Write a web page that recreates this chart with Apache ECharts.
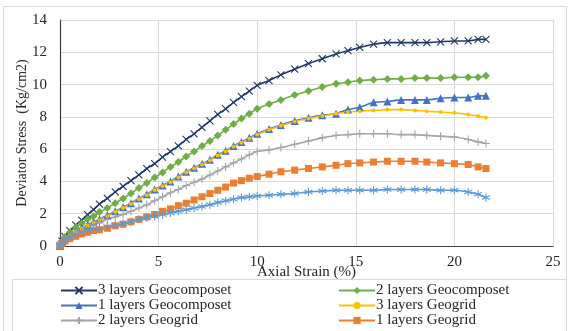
<!DOCTYPE html>
<html>
<head>
<meta charset="utf-8">
<script src="https://cdn.jsdelivr.net/npm/echarts@6/dist/echarts.min.js"></script>
<style>
html, body { margin: 0; padding: 0; background: #fff; }
#main { width: 570px; height: 331px; }
</style>
</head>
<body>
<div id="main"></div>
<script>
// axial strain (%) shared by all curves
var strain = [0, 0.1, 0.25, 0.5, 0.8, 1.1, 1.4, 1.7, 2.0, 2.4, 2.8, 3.2, 3.6, 4.0, 4.4, 4.8, 5.2, 5.6, 6.0, 6.4, 6.8, 7.2, 7.6, 8.0, 8.4, 8.8, 9.2, 9.6, 10.0,
    10.6, 11.2, 11.9, 12.6, 13.3, 14.0, 14.6, 15.2, 15.9, 16.6, 17.3, 18.0, 18.6, 19.3, 20.0, 20.7, 21.2, 21.6];

// deviator stress (Kg/cm2)
var geocomp3 = [0, 0.3, 0.6, 0.95, 1.3, 1.6, 1.95, 2.25, 2.6, 2.95, 3.35, 3.7, 4.05, 4.4, 4.8, 5.1, 5.5, 5.85, 6.2, 6.6, 6.95, 7.35, 7.75, 8.15, 8.5, 8.9, 9.25, 9.6, 9.95,
    10.25, 10.6, 10.95, 11.3, 11.6, 11.9, 12.1, 12.3, 12.5, 12.6, 12.6, 12.6, 12.6, 12.65, 12.7, 12.7, 12.8, 12.8];
var geocomp2 = [0, 0.3, 0.55, 0.85, 1.15, 1.4, 1.65, 1.85, 2.1, 2.35, 2.65, 2.95, 3.25, 3.6, 3.9, 4.25, 4.55, 4.9, 5.2, 5.55, 5.85, 6.2, 6.5, 6.85, 7.2, 7.55, 7.9, 8.2, 8.5,
    8.8, 9.05, 9.35, 9.6, 9.85, 10.05, 10.15, 10.25, 10.3, 10.35, 10.35, 10.4, 10.4, 10.4, 10.45, 10.45, 10.45, 10.55];
var geocomp1 = [0, 0.25, 0.45, 0.7, 0.9, 1.1, 1.3, 1.5, 1.65, 1.9, 2.15, 2.4, 2.65, 2.95, 3.2, 3.5, 3.75, 4.0, 4.3, 4.6, 4.85, 5.1, 5.35, 5.65, 5.9, 6.2, 6.45, 6.7, 6.95,
    7.25, 7.5, 7.75, 7.95, 8.1, 8.2, 8.45, 8.6, 8.9, 8.95, 9.05, 9.05, 9.05, 9.15, 9.2, 9.2, 9.3, 9.3];
var geogrid3 = [0, 0.2, 0.4, 0.65, 0.85, 1.05, 1.25, 1.45, 1.6, 1.85, 2.1, 2.35, 2.6, 2.9, 3.15, 3.45, 3.7, 3.95, 4.25, 4.55, 4.8, 5.05, 5.3, 5.6, 5.85, 6.15, 6.4, 6.65, 6.9,
    7.2, 7.45, 7.7, 7.9, 8.05, 8.2, 8.3, 8.35, 8.4, 8.45, 8.45, 8.4, 8.35, 8.3, 8.25, 8.15, 8.05, 7.95];
var geogrid2 = [0, 0.2, 0.4, 0.6, 0.8, 0.95, 1.15, 1.3, 1.45, 1.65, 1.8, 1.95, 2.15, 2.35, 2.55, 2.8, 3.05, 3.3, 3.5, 3.75, 3.95, 4.15, 4.4, 4.65, 4.9, 5.15, 5.4, 5.65, 5.85,
    5.95, 6.1, 6.3, 6.5, 6.7, 6.85, 6.9, 6.95, 6.95, 6.95, 6.9, 6.9, 6.85, 6.8, 6.75, 6.6, 6.45, 6.35];
var geogrid1 = [0, 0.15, 0.3, 0.45, 0.6, 0.75, 0.85, 0.95, 1.0, 1.1, 1.25, 1.35, 1.5, 1.65, 1.8, 1.95, 2.15, 2.3, 2.5, 2.65, 2.85, 3.05, 3.25, 3.45, 3.65, 3.9, 4.05, 4.2, 4.3,
    4.45, 4.6, 4.7, 4.8, 4.9, 5.0, 5.1, 5.15, 5.2, 5.25, 5.25, 5.25, 5.2, 5.15, 5.1, 5.05, 4.9, 4.8];
// curve without a legend entry (light blue, asterisk)
var unlabeled = [0, 0.2, 0.35, 0.55, 0.7, 0.85, 0.95, 1.05, 1.1, 1.2, 1.3, 1.4, 1.5, 1.65, 1.75, 1.85, 1.95, 2.05, 2.15, 2.25, 2.35, 2.45, 2.55, 2.7, 2.8, 2.9, 3.0, 3.05, 3.1,
    3.15, 3.2, 3.25, 3.35, 3.4, 3.45, 3.45, 3.45, 3.45, 3.5, 3.5, 3.5, 3.5, 3.45, 3.45, 3.35, 3.2, 3.0];

var names = ['3 layers Geocomposet', '2 layers Geocomposet', '1 layers Geocomposet',
    '3 layers Geogrid', '2 layers Geogrid', '1 layers Geogrid', 'unlabeled'];
var xTicks = [0, 5, 10, 15, 20, 25];

function pairs(vals) {
    return strain.map(function (x, i) { return [x, vals[i]]; });
}

var SERIF = '"Liberation Serif", "DejaVu Serif", serif';
var crossPath = 'path://M0,0L10,10M10,0L0,10';
var plusPath = 'path://M5,0L5,10M0,5L10,5';
var starPath = 'path://M5,0L5,10M0,2.5L10,7.5M0,7.5L10,2.5';

function lineSeries(name, vals, color, symbol, size, stroked) {
    return {
        name: name,
        type: 'line',
        data: pairs(vals),
        smooth: 0.2,
        symbol: symbol,
        symbolSize: size,
        showAllSymbol: true,
        lineStyle: { color: color, width: 1.6 },
        itemStyle: stroked
            ? { color: 'rgba(0,0,0,0)', borderColor: color, borderWidth: 1.1 }
            : { color: color, borderWidth: 0 },
        emphasis: { disabled: true }
    };
}

// one legend box per entry, two columns of three rows
function legendItem(name, left, top) {
    return {
        left: left, top: top, padding: 0,
        itemWidth: 36, itemHeight: 9,
        textStyle: { color: '#262626', fontSize: 15, fontFamily: SERIF, padding: [0, 0, 0, -4] },
        data: [name]
    };
}

var chart = echarts.init(document.getElementById('main'));
chart.setOption({
    animation: false,
    textStyle: { fontFamily: SERIF },
    graphic: [
        { type: 'rect', shape: { x: 3.5, y: 6.5, width: 563, height: 330 }, style: { fill: 'none', stroke: '#d9d9d9', lineWidth: 1 }, silent: true },
        { type: 'rect', shape: { x: 12.5, y: 279.5, width: 554, height: 60 }, style: { fill: 'none', stroke: '#d9d9d9', lineWidth: 1 }, silent: true }
    ],
    grid: { left: 60, right: 17, top: 20, bottom: 85 },
    xAxis: {
        type: 'value', min: 0, max: 25, interval: 5,
        name: 'Axial Strain (%)', nameLocation: 'middle', nameGap: 19, nameMoveOverlap: false,
        nameTextStyle: { color: '#262626', fontSize: 15, fontFamily: SERIF },
        axisLine: { lineStyle: { color: '#404040', width: 1.2 } },
        axisTick: { show: false },
        axisLabel: {
            color: '#262626', fontSize: 15, fontFamily: SERIF, margin: 9,
            formatter: function (v) { return xTicks.indexOf(v) >= 0 ? String(v) : ''; }
        },
        splitLine: { lineStyle: { color: '#d9d9d9' } }
    },
    yAxis: {
        type: 'value', min: 0, max: 14, interval: 2,
        name: 'Deviator Stress  (Kg/cm2)', nameLocation: 'middle', nameGap: 31, nameMoveOverlap: false,
        nameTextStyle: { color: '#262626', fontSize: 14, fontFamily: SERIF },
        axisLine: { show: true, lineStyle: { color: '#404040', width: 1.2 } },
        axisTick: { show: false },
        axisLabel: { color: '#262626', fontSize: 15, fontFamily: SERIF, margin: 13 },
        splitLine: { lineStyle: { color: '#d9d9d9' } }
    },
    legend: [
        legendItem(names[0], 60, 283),
        legendItem(names[2], 60, 298),
        legendItem(names[4], 60, 313),
        legendItem(names[1], 338, 283),
        legendItem(names[3], 338, 298),
        legendItem(names[5], 338, 313)
    ],
    series: [
        lineSeries(names[0], geocomp3, '#203864', crossPath, 7, true),
        lineSeries(names[1], geocomp2, '#70AD47', 'diamond', 8, false),
        lineSeries(names[2], geocomp1, '#4472C4', 'triangle', 8, false),
        lineSeries(names[3], geogrid3, '#FFC000', 'circle', 4, false),
        lineSeries(names[4], geogrid2, '#A5A5A5', plusPath, 8, true),
        lineSeries(names[5], geogrid1, '#ED7D31', 'rect', 7, false),
        lineSeries(names[6], unlabeled, '#5B9BD5', starPath, 8, true)
    ]
});
</script>
</body>
</html>
